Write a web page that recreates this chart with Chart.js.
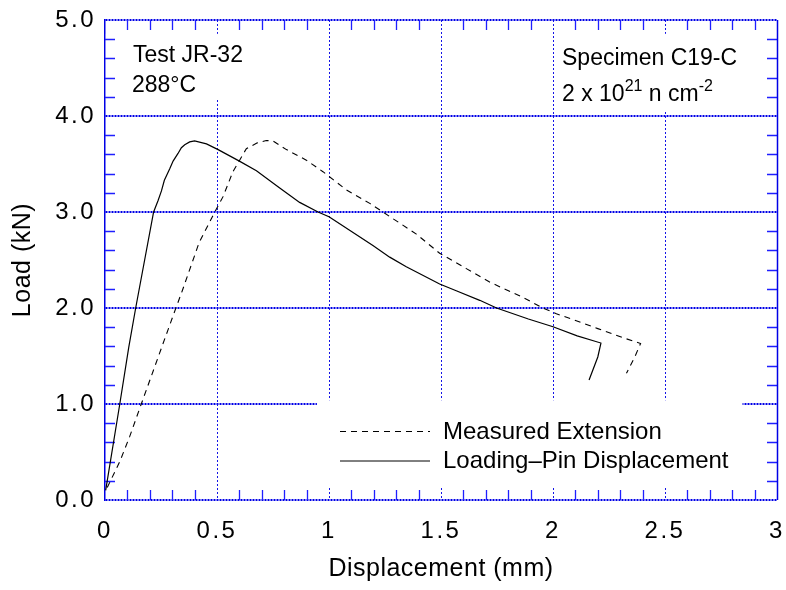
<!DOCTYPE html>
<html>
<head>
<meta charset="utf-8">
<script src="https://cdn.jsdelivr.net/npm/chart.js@4.4.1/dist/chart.umd.min.js"></script>
<style>
html,body{margin:0;padding:0;background:#fff;}
#wrap{width:786px;height:590px;}
</style>
</head>
<body>
<div id="wrap"><canvas id="c" width="786" height="590"></canvas></div>
<script>
// ---- data ----
const xTickLabels = ['0', '0.5', '1', '1.5', '2', '2.5', '3'];
const yTickLabels = ['0.0', '1.0', '2.0', '3.0', '4.0', '5.0'];
const seriesNames = ['Measured Extension', 'Loading\u2013Pin Displacement'];
const xTitle = 'Displacement (mm)';
const yTitle = 'Load (kN)';
const noteLeft = ['Test JR-32', '288\u00B0C'];
const noteRight = 'Specimen C19-C';
const fluenceParts = [['2 x 10', false], ['21', true], [' n cm', false], ['-2', true]];

const measuredX = [0.010, 0.066, 0.110, 0.162, 0.304, 0.345, 0.420, 0.490, 0.527, 0.571, 0.631, 0.680, 0.720, 0.750, 0.810, 0.899, 0.973, 1.078, 1.182, 1.286, 1.390, 1.494, 1.613, 1.717, 1.866, 1.955, 2.015, 2.089, 2.200, 2.313, 2.391, 2.365, 2.328];
const measuredY = [0.13, 0.40, 0.66, 1.00, 1.92, 2.18, 2.68, 3.00, 3.16, 3.42, 3.66, 3.72, 3.745, 3.74, 3.65, 3.54, 3.42, 3.23, 3.09, 2.93, 2.77, 2.57, 2.41, 2.27, 2.11, 2.00, 1.94, 1.88, 1.785, 1.69, 1.63, 1.49, 1.32];

const pinX = [0.003, 0.066, 0.106, 0.137, 0.217, 0.237, 0.252, 0.265, 0.289, 0.304, 0.326, 0.341, 0.356, 0.378, 0.400, 0.453, 0.505, 0.600, 0.676, 0.780, 0.869, 0.951, 1.000, 1.092, 1.196, 1.271, 1.345, 1.494, 1.568, 1.673, 1.748, 1.890, 2.000, 2.108, 2.214, 2.200, 2.161];
const pinY = [0.10, 1.00, 1.59, 2.00, 3.00, 3.12, 3.22, 3.33, 3.45, 3.53, 3.61, 3.67, 3.70, 3.73, 3.74, 3.71, 3.65, 3.53, 3.43, 3.25, 3.10, 3.00, 2.95, 2.81, 2.65, 2.53, 2.43, 2.25, 2.18, 2.08, 2.00, 1.885, 1.805, 1.71, 1.635, 1.49, 1.25];

// ---- styling ----
const FONT = '"Liberation Sans", Arial, Helvetica, sans-serif';
const BLUE = '#0000e6';
const BLUE_T = '#1f1fff';
const BLUE_V = '#1414e6';
const CLEAR = 'rgba(0,0,0,0)';
const toPts = (xs, ys) => xs.map((v, i) => ({x: v, y: ys[i]}));

const deco = {
  id: 'deco',
  beforeDraw(chart) {
    chart.ctx.letterSpacing = '0.5px';
  },
  beforeDatasetsDraw(chart) {
    const {ctx, chartArea: a, scales: {x, y}} = chart;
    ctx.letterSpacing = '0px';
    ctx.save();
    // white panels behind annotation / legend (in data units)
    ctx.fillStyle = '#ffffff';
    const boxes = [[0.004, 0.70, 4.174, 4.856], [2.20, 2.994, 4.059, 4.856], [0.946, 2.846, 0.1375, 1.039]];
    boxes.forEach(([x0, x1, y0, y1]) => {
      const px0 = x.getPixelForValue(x0), px1 = x.getPixelForValue(x1);
      const py0 = y.getPixelForValue(y1), py1 = y.getPixelForValue(y0);
      ctx.fillRect(px0, py0, px1 - px0, py1 - py0);
    });
    // inward minor ticks
    ctx.strokeStyle = BLUE_T;
    ctx.lineWidth = 1.3;
    ctx.setLineDash([]);
    ctx.beginPath();
    for (let i = 1; i < 30; i++) {
      if (i % 5 === 0) continue;
      const px = Math.round(x.getPixelForValue(i / 10)) + 0.5;
      ctx.moveTo(px, a.top); ctx.lineTo(px, a.top + 10);
      ctx.moveTo(px, a.bottom); ctx.lineTo(px, a.bottom - 10);
    }
    for (let j = 1; j < 25; j++) {
      if (j % 5 === 0) continue;
      const py = Math.round(y.getPixelForValue(j / 5)) + 0.5;
      ctx.moveTo(a.left, py); ctx.lineTo(a.left + 10, py);
      ctx.moveTo(a.right, py); ctx.lineTo(a.right - 10, py);
    }
    ctx.stroke();
    // right frame line
    ctx.strokeStyle = BLUE;
    ctx.lineWidth = 1.5;
    ctx.beginPath();
    const rx = Math.round(x.getPixelForValue(3)) + 0.5;
    ctx.moveTo(rx, a.top); ctx.lineTo(rx, a.bottom);
    ctx.stroke();
    ctx.restore();
  },
  afterDatasetsDraw(chart) {
    const ctx = chart.ctx;
    ctx.save();
    ctx.letterSpacing = '0px';
    ctx.fillStyle = '#000';
    ctx.textAlign = 'left';
    ctx.textBaseline = 'alphabetic';
    ctx.font = '23px ' + FONT;
    ctx.fillText(noteLeft[0], 133, 61.5);
    ctx.fillText(noteLeft[1], 132, 92);
    ctx.fillText(noteRight, 562, 64.5);
    let cx = 562;
    fluenceParts.forEach(([t, sup]) => {
      ctx.font = (sup ? '16px ' : '23px ') + FONT;
      ctx.fillText(t, cx, sup ? 91 : 101);
      cx += ctx.measureText(t).width;
    });
    // legend
    const rows = [431.5, 461];
    chart.data.datasets.forEach((ds, k) => {
      ctx.save();
      ctx.strokeStyle = ds.borderColor;
      ctx.lineWidth = 1;
      ctx.setLineDash(ds.borderDash || []);
      ctx.beginPath();
      ctx.moveTo(340, rows[k]);
      ctx.lineTo(430, rows[k]);
      ctx.stroke();
      ctx.restore();
      ctx.font = '24px ' + FONT;
      ctx.fillText(ds.label, 443, rows[k] + 7);
    });
    ctx.restore();
    ctx.letterSpacing = '2.5px';
  },
  afterDraw(chart) {
    chart.ctx.letterSpacing = '0px';
  }
};

new Chart(document.getElementById('c').getContext('2d'), {
  type: 'scatter',
  data: {
    datasets: [
      {label: seriesNames[0], data: toPts(measuredX, measuredY), showLine: true, borderColor: '#000', borderWidth: 1.1, borderDash: [6, 5], pointRadius: 0, tension: 0, fill: false},
      {label: seriesNames[1], data: toPts(pinX, pinY), showLine: true, borderColor: '#000', borderWidth: 1.2, pointRadius: 0, tension: 0, fill: false}
    ]
  },
  options: {
    responsive: false,
    animation: false,
    devicePixelRatio: 1,
    layout: {padding: {top: 20, right: 9, left: 0, bottom: 0}},
    plugins: {legend: {display: false}, tooltip: {enabled: false}},
    scales: {
      x: {
        type: 'linear', position: 'bottom', min: 0, max: 3,
        ticks: {stepSize: 0.5, autoSkip: false, maxRotation: 0, padding: 0, z: 1, color: '#000',
                font: {family: FONT, size: 24}, callback: (v) => xTickLabels[Math.round(v / 0.5)]},
        grid: {drawTicks: true, tickLength: 17, tickColor: CLEAR, lineWidth: 1,
               color: (c) => (c.tick && (c.tick.value === 0 || c.tick.value === 3)) ? CLEAR : BLUE_V},
        border: {display: false, dash: [2, 2]},
        title: {display: true, text: xTitle, color: '#000', font: {family: FONT, size: 25}, padding: {top: 0, bottom: 5.5}},
        afterFit: (s) => { s.height = 90; }
      },
      y: {
        type: 'linear', position: 'left', min: 0, max: 5,
        ticks: {stepSize: 1, autoSkip: false, padding: 0, z: 1, color: '#000',
                font: {family: FONT, size: 24}, callback: (v) => yTickLabels[Math.round(v)]},
        grid: {drawTicks: true, tickLength: 9, tickColor: CLEAR, lineWidth: 2, color: BLUE},
        border: {display: true, color: BLUE, width: 1.5, dash: [2, 1]},
        title: {display: true, text: yTitle, color: '#000', font: {family: FONT, size: 25}, padding: {top: 8, bottom: 0}},
        afterFit: (s) => { s.width = 105; }
      }
    }
  },
  plugins: [deco]
});
</script>
</body>
</html>
